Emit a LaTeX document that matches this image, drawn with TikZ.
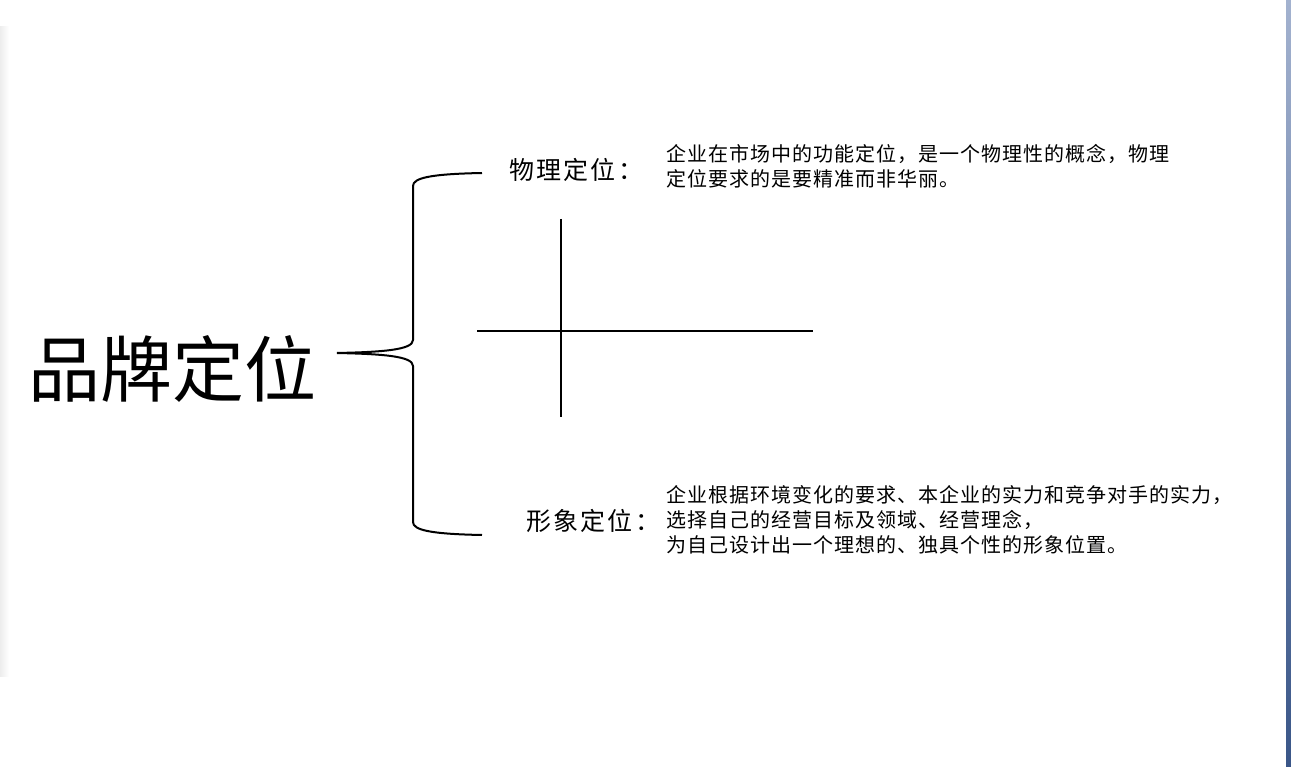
\documentclass[tikz,border=0pt]{standalone}
\usepackage{fontspec}
\newfontfamily\cjk{Noto Sans CJK SC}
\newfontfamily\cjkhead[LetterSpace=9]{Noto Sans CJK SC}
\newfontfamily\cjkdesc[LetterSpace=5]{Noto Sans CJK SC}
\definecolor{framelight}{HTML}{A3B2CF}
\definecolor{framedark}{HTML}{3A5688}

\begin{document}
\begin{tikzpicture}[x=1pt, y=-1pt,
  title/.style={inner sep=0pt, anchor=base west, font=\cjk\fontsize{72}{80}\selectfont},
  head/.style={inner sep=0pt, anchor=base west, font=\cjkhead\fontsize{25}{30}\selectfont},
  desc/.style={inner sep=0pt, anchor=base west, align=left, font=\cjkdesc\fontsize{20}{25}\selectfont},
  bracket/.style={line width=2pt},
  axis/.style={line width=1.1pt}]
  % Page and window edges
  \fill[white] (0,0) rectangle (1291,767);
  \useasboundingbox (0,0) rectangle (1291,767);
  \shade[left color=black!7, right color=white] (0,27) rectangle (9,676);
  \shade[top color=framelight, bottom color=framedark] (1286,0) rectangle (1291,767);
  % Labels (multi-line nodes sit on their last baseline)
  \node[title] (brand) at (28,396) {品牌定位};
  \node[head] (phys) at (509,180) {物理定位：};
  \node[head] (image) at (526,530) {形象定位：};
  \node[desc] (physdesc) at (666,187) {企业在市场中的功能定位，是一个物理性的概念，物理\\定位要求的是要精准而非华丽。};
  \node[desc] (imagedesc) at (666,552) {企业根据环境变化的要求、本企业的实力和竞争对手的实力，\\选择自己的经营目标及领域、经营理念，\\为自己设计出一个理想的、独具个性的形象位置。};
  % Brace
  \coordinate (tip) at (337,353);
  \coordinate (armtop) at (482,173);
  \coordinate (armbot) at (482,535);
  \draw[bracket] (tip) .. controls (382,352) and (413,350) .. (413,340)
    -- (413,186) .. controls (413,178) and (430,174) .. (armtop);
  \draw[bracket] (tip) .. controls (382,354) and (413,356) .. (413,366)
    -- (413,522) .. controls (413,530) and (430,534) .. (armbot);
  % Cross
  \draw[axis] (561,219) -- (561,417);
  \draw[axis] (477,331) -- (813,331);
\end{tikzpicture}
\end{document}
